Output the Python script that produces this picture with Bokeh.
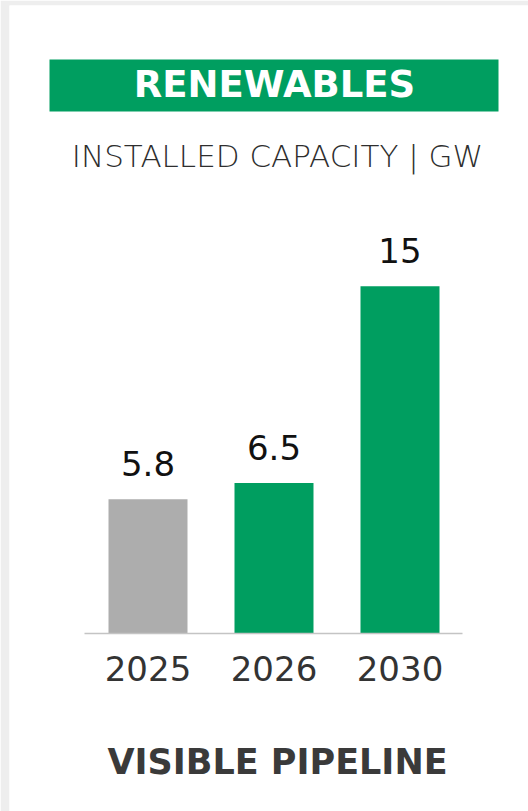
from bokeh.plotting import figure
from bokeh.models import Range1d, ColumnDataSource
from bokeh.core.properties import value
from bokeh.embed import file_html
from bokeh.resources import INLINE

# ---- data ----
years = ["2025", "2026", "2030"]
capacity_gw = [5.8, 6.5, 15]
value_labels = ["5.8", "6.5", "15"]
bar_colors = ["#ADADAD", "#009E60", "#009E60"]
title_text = "RENEWABLES"
subtitle_text = "INSTALLED CAPACITY | GW"
footer_text = "VISIBLE PIPELINE"

GREEN = "#009E60"
FONT = "DejaVu Sans"
W, H = 528, 811
BL, BT = 9, 5  # grey border left/top
PX_PER_X = 126.0
PX_PER_Y = 23.15
X_START = -1.0992
Y_END = 27.13
K = 0.4  # empirical baseline correction (fraction of font size)

def X(px):
    return X_START + (px - BL) / PX_PER_X

def Y(py):
    return Y_END - (py - BT) / PX_PER_Y

def base(py, size):
    return Y(py - K * size)

p = figure(width=W, height=H, output_backend="svg", toolbar_location=None,
           x_range=Range1d(X_START, X(W)), y_range=Range1d(Y(H), Y_END),
           min_border_left=BL, min_border_top=BT, min_border_right=0, min_border_bottom=0)
p.axis.visible = False
p.grid.visible = False
p.outline_line_color = None
p.border_fill_color = "#EEEEEE"
p.background_fill_color = "white"

xs = list(range(len(years)))
VS = 34
src = ColumnDataSource(dict(x=xs, top=capacity_gw, color=bar_colors, label=value_labels,
                            ly=[v + (22 + K * VS) / PX_PER_Y for v in capacity_gw], year=years))

# header band
p.quad(left=[X(49)], right=[X(498)], top=[Y(59)], bottom=[Y(111)],
       fill_color=GREEN, line_color=None)
p.text(x=[X(274)], y=[base(99, 37)], text=[title_text], text_align="center",
       text_baseline="alphabetic", text_color="white", text_font=value(FONT),
       text_font_style="bold", text_font_size="37px")
p.text(x=[X(277)], y=[base(168, 31)], text=[subtitle_text], text_align="center",
       text_baseline="alphabetic", text_color="#2E2E2E",
       text_font=value("DejaVu Sans Light, DejaVu Sans"),
       text_font_size="31px")

# bars
p.vbar(x="x", top="top", bottom=0, width=79 / PX_PER_X, fill_color="color",
       line_color=None, source=src)
p.segment(x0=[X(84)], x1=[X(462)], y0=[0], y1=[0], line_color="#C4C4C4", line_width=1.5)

p.text(x="x", y="ly", text="label", source=src, text_align="center",
       text_baseline="alphabetic", text_color="#111111", text_font=value(FONT),
       text_font_size=f"{VS}px")
p.text(x="x", y=base(682, 34), text="year", source=src, text_align="center",
       text_baseline="alphabetic", text_color="#333333", text_font=value(FONT),
       text_font_size="34px")

p.text(x=[X(277)], y=[base(775, 35)], text=[footer_text], text_align="center",
       text_baseline="alphabetic", text_color="#3A3A3A", text_font=value(FONT),
       text_font_style="bold", text_font_size="35px")

open("out.html", "w").write(file_html(p, INLINE))
